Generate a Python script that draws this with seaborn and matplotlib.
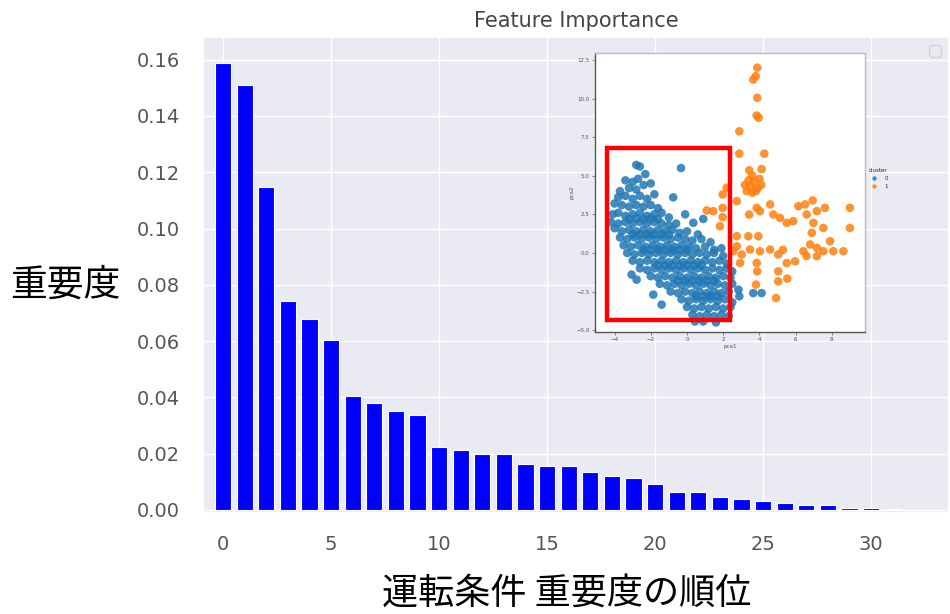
import matplotlib
matplotlib.use("Agg")
import matplotlib.pyplot as plt
from matplotlib.patches import Rectangle
import seaborn as sns
import pandas as pd

# Feature importance, sorted in descending order
ranks = list(range(32))
importance = [
    0.1588, 0.1509, 0.1147, 0.0741, 0.0678, 0.0604, 0.0403, 0.0379,
    0.0352, 0.0338, 0.0223, 0.0213, 0.0199, 0.0199, 0.0164, 0.0156,
    0.0156, 0.0134, 0.0120, 0.0113, 0.0091, 0.0062, 0.0062, 0.0047,
    0.0040, 0.0033, 0.0026, 0.0019, 0.0019, 0.0007, 0.0005, 0.0004,
]
x_ticks = [0, 5, 10, 15, 20, 25, 30]
y_ticks = [0.00, 0.02, 0.04, 0.06, 0.08, 0.10, 0.12, 0.14, 0.16]

# PCA projection of the operating data, cluster 0
pca_c0 = [
    (-2.8, 5.7), (-2.6, 5.6), (-2.3, 5.1), (-0.33, 5.5),
    (-3.4, 4.7), (-3.0, 4.6), (-2.7, 4.8), (-2.4, 4.4), (-2.0, 4.5),
    (-3.7, 4.0), (-3.2, 4.2), (-2.8, 4.1),
    (-3.8, 3.6), (-3.4, 3.7), (-3.0, 3.5), (-2.6, 3.7), (-2.2, 3.5),
    (-1.8, 3.8), (-0.76, 3.6), (-4.0, 3.2), (-3.6, 3.1), (-3.2, 3.0),
    (-2.8, 3.1), (-2.4, 3.0), (-2.0, 3.1), (-1.6, 2.9),
    (-4.1, 2.5), (-3.8, 2.6), (-3.4, 2.4), (-3.0, 2.5), (-2.6, 2.6),
    (-2.2, 2.4), (-1.8, 2.5), (-1.4, 2.6), (-1.0, 2.3), (-0.1, 2.5),
    (-4.2, 2.0), (-3.8, 1.9), (-3.4, 2.0), (-3.0, 1.9), (-2.6, 2.0),
    (-2.2, 1.9), (-1.8, 2.0), (-1.4, 1.9), (-1.0, 1.8), (-0.6, 1.9),
    (0.35, 1.95), (0.9, 2.2),
    (-4.0, 1.6), (-3.6, 1.4), (-3.2, 1.5), (-2.8, 1.4), (-2.4, 1.5),
    (-2.0, 1.4), (-1.6, 1.5), (-1.2, 1.4), (-0.8, 1.5), (-0.4, 1.3),
    (0.0, 1.4), (0.6, 1.2),
    (-3.7, 1.0), (-3.3, 0.9), (-2.9, 1.0), (-2.5, 0.9), (-2.1, 1.0),
    (-1.7, 0.9), (-1.3, 1.0), (-0.9, 0.9), (-0.5, 1.0), (-0.1, 0.9),
    (0.3, 0.8), (0.8, 0.9), (1.3, 0.7),
    (-3.5, 0.5), (-3.1, 0.4), (-2.7, 0.5), (-2.3, 0.4), (-1.9, 0.5),
    (-1.5, 0.4), (-1.1, 0.5), (-0.7, 0.4), (-0.3, 0.5), (0.1, 0.4),
    (0.5, 0.3), (1.0, 0.4), (1.5, 0.2), (1.9, 0.3),
    (-3.3, 0.0), (-2.9, -0.1), (-2.5, 0.0), (-2.1, -0.1), (-1.7, 0.0),
    (-1.3, -0.1), (-0.9, 0.0), (-0.5, -0.1), (-0.1, 0.0), (0.3, -0.1),
    (0.7, 0.0), (1.1, -0.1), (1.5, 0.0), (2.0, -0.2),
    (-3.0, -0.5), (-2.6, -0.6), (-2.2, -0.5), (-1.8, -0.6), (-1.4, -0.5),
    (-1.0, -0.6), (-0.6, -0.5), (-0.2, -0.6), (0.2, -0.5), (0.6, -0.6),
    (1.0, -0.5), (1.4, -0.6), (1.8, -0.5), (2.2, -0.7),
    (-2.6, -1.0), (-2.2, -1.1), (-1.8, -1.0), (-1.4, -1.1), (-1.0, -1.0),
    (-0.6, -1.1), (-0.2, -1.0), (0.2, -1.1), (0.6, -1.0), (1.0, -1.1),
    (1.4, -1.0), (1.8, -1.1), (2.2, -1.0), (2.5, -1.2),
    (-3.06, -1.4), (-2.78, -1.73), (-2.0, -1.5), (-1.6, -1.6), (-1.2, -1.5),
    (-0.8, -1.6), (-0.4, -1.5), (0.0, -1.6), (0.4, -1.5), (0.8, -1.6),
    (1.2, -1.5), (1.6, -1.6), (2.0, -1.5), (2.4, -1.6),
    (-1.5, -2.0), (-1.1, -2.1), (-0.7, -2.0), (-0.3, -2.1), (0.1, -2.0),
    (0.5, -2.1), (0.9, -2.0), (1.3, -2.1), (1.7, -2.0), (2.1, -2.1),
    (2.5, -2.0),
    (-1.86, -2.7), (-0.9, -2.5), (-0.5, -2.6), (-0.1, -2.5), (0.3, -2.6),
    (0.7, -2.5), (1.1, -2.6), (1.5, -2.5), (1.9, -2.6), (2.3, -2.5),
    (2.84, -2.38), (2.89, -2.81), (3.66, -2.6), (4.12, -2.6),
    (-1.4, -3.35), (-0.3, -3.0), (0.1, -3.1), (0.5, -3.0), (0.9, -3.1),
    (1.3, -3.0), (1.7, -3.1), (2.1, -3.0), (2.5, -3.2),
    (0.0, -3.5), (0.4, -3.6), (0.8, -3.5), (1.2, -3.6), (1.6, -3.5),
    (2.0, -3.6), (2.4, -3.5),
    (0.3, -4.0), (0.7, -4.1), (1.1, -4.0), (1.5, -4.1), (1.9, -4.0),
    (2.3, -4.1), (0.44, -4.44), (0.9, -4.44), (1.6, -4.5),
    # denser core along the main diagonal band
    (-3.2, 2.2), (-2.8, 2.25), (-2.4, 2.2), (-2.0, 2.25), (-1.6, 2.2),
    (-3.0, 1.2), (-2.6, 1.2), (-2.2, 1.2), (-1.8, 1.2), (-1.4, 1.2),
    (-1.0, 1.2), (-2.4, 0.2), (-2.0, 0.2), (-1.6, 0.2), (-1.2, 0.2),
    (-0.8, 0.2), (-0.4, 0.2), (0.0, 0.2), (-1.6, -0.8), (-1.2, -0.8),
    (-0.8, -0.8), (-0.4, -0.8), (0.0, -0.8), (0.4, -0.8), (0.8, -0.8),
    (-0.5, -1.8), (-0.1, -1.8), (0.3, -1.8), (0.7, -1.8), (1.1, -1.8),
    (1.5, -1.8), (0.5, -2.8), (0.9, -2.8), (1.3, -2.8), (1.7, -2.8),
]

# PCA projection of the operating data, cluster 1
pca_c1 = [
    (3.88, 12.0), (3.66, 11.23), (3.8, 11.45), (3.88, 10.05), (3.85, 8.9),
    (3.96, 8.75), (2.89, 7.88), (2.89, 6.43), (4.27, 6.43), (3.44, 5.35),
    (4.12, 5.43),
    (3.3, 4.0), (3.5, 4.3), (3.7, 4.6), (3.9, 4.2), (4.0, 4.8), (3.6, 3.9),
    (3.8, 4.0), (4.1, 4.4), (3.4, 4.7), (3.6, 5.0), (3.2, 4.4),
    (1.97, 3.79), (2.19, 4.22), (2.75, 3.36), (1.97, 2.92), (1.09, 2.75),
    (1.45, 2.71), (1.97, 2.32), (1.82, 1.73), (3.43, 2.49), (3.85, 2.92),
    (4.59, 3.14), (4.03, 2.71), (4.77, 2.49), (5.14, 2.27), (5.51, 1.95),
    (5.87, 2.06), (6.15, 3.03), (6.52, 3.14), (6.94, 3.4), (6.61, 2.49),
    (7.17, 2.71), (7.62, 2.92), (9.0, 2.92), (6.98, 1.95), (7.53, 1.62),
    (9.0, 1.62), (6.89, 1.3), (7.9, 0.76),
    (2.56, 0.11), (3.02, -0.1), (3.48, 0.22), (4.03, 0.11), (4.59, 0.22),
    (5.04, -0.1), (5.3, 0.2), (6.43, 0.11), (6.8, 0.55), (7.17, 0.33),
    (7.53, 0.11), (8.08, 0.11), (8.64, 0.11), (7.17, -0.21), (6.6, -0.2),
    (5.51, -0.65), (5.97, -0.54), (2.93, -0.65), (3.85, -0.65),
    (2.75, 1.08), (3.39, 1.08), (3.94, 1.08), (2.75, 0.43),
    (3.88, -1.19), (5.04, -1.19), (3.81, -2.05), (5.54, -1.66),
    (4.92, -2.92), (5.04, -1.84),
]

pca = pd.DataFrame(
    [(px, py, "0") for px, py in pca_c0] + [(px, py, "1") for px, py in pca_c1],
    columns=["pca1", "pca2", "cluster"],
)
imp = pd.DataFrame({"rank": ranks, "importance": importance})

sns.set_theme(style="darkgrid")
plt.rcParams["font.family"] = ["DejaVu Sans", "Noto Sans CJK JP"]

fig = plt.figure(figsize=(9.5, 6.14), dpi=100)
ax = fig.add_axes([0.2137, 0.1645, 0.785, 0.775])

sns.barplot(data=imp, x="rank", y="importance", native_scale=True,
            color="#0000ff", saturation=1, width=0.75,
            edgecolor="white", linewidth=0.8, ax=ax)

ax.set_xlim(-0.93, 33.6)
ax.set_ylim(-0.0011, 0.168)
ax.set_xticks(x_ticks)
ax.set_yticks(y_ticks)
ax.set_yticklabels([f"{v:.2f}" for v in y_ticks])
ax.tick_params(axis="y", labelsize=14, pad=10.5, colors="#555555")
ax.tick_params(axis="x", labelsize=14, pad=10, colors="#555555")
ax.set_title("Feature Importance", fontsize=15, color="#444444", pad=7)
ax.set_xlabel("")
ax.set_ylabel("")
fig.text(0.069, 0.535, "重要度", fontsize=26.5, ha="center", va="center",
         family=["Noto Sans CJK JP"], color="black")
fig.text(0.597, 0.033, "運転条件 重要度の順位", fontsize=26, ha="center",
         va="center", family=["Noto Sans CJK JP"], color="black")
ax.legend(handles=[], loc="upper right")

# Inset: PCA scatter of the two clusters
ins = fig.add_axes([0.6263, 0.4598, 0.2842, 0.4544])
ins.set_facecolor("white")
sns.scatterplot(data=pca, x="pca1", y="pca2", hue="cluster",
                palette=["#1f77b4", "#ff7f0e"], s=38, alpha=0.85,
                linewidth=0, ax=ins)
ins.grid(False)
ins.set_xlim(-5.08, 9.83)
ins.set_ylim(-5.1, 12.97)
ins.set_xticks([-4, -2, 0, 2, 4, 6, 8])
ins.set_yticks([-5.0, -2.5, 0.0, 2.5, 5.0, 7.5, 10.0, 12.5])
ins.set_yticklabels(["−5.0", "−2.5", "0.0", "2.5", "5.0", "7.5", "10.0", "12.5"])
ins.tick_params(labelsize=4, length=2, width=0.5, pad=2, colors="#555555",
                bottom=True, left=True)
ins.set_xlabel("pca1", fontsize=4, color="#555555", labelpad=1)
ins.set_ylabel("pca2", fontsize=4, color="#555555", labelpad=1)
for side in ["top", "right"]:
    ins.spines[side].set_color("#bbbbbb")
    ins.spines[side].set_linewidth(1.0)
for side in ["left", "bottom"]:
    ins.spines[side].set_color("#555555")
    ins.spines[side].set_linewidth(1.0)
ins.legend(title="cluster", loc="center left", bbox_to_anchor=(1.0, 0.55),
           frameon=False, fontsize=4, title_fontsize=4, markerscale=0.5,
           handletextpad=0.8, borderaxespad=0.3)

# Highlight the cluster-0 region
ins.add_patch(Rectangle((-4.44, -4.32), 2.38 + 4.44, 6.78 + 4.32,
                        fill=False, edgecolor="red", linewidth=3.2,
                        clip_on=False, zorder=5))

fig.savefig("out.png", dpi=100)
